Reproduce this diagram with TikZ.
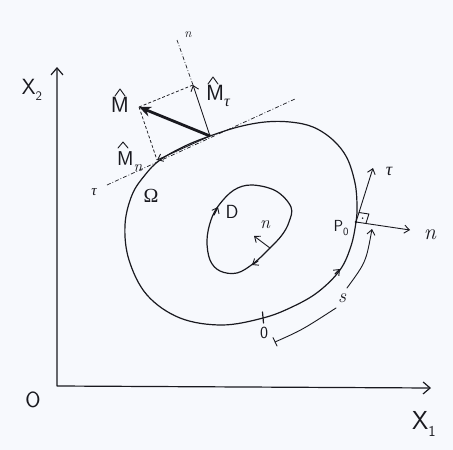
\documentclass[tikz,border=0pt]{standalone}
\usepackage{fontspec}
\newfontfamily\grk{Liberation Serif}
\usetikzlibrary{arrows.meta,calc}
\definecolor{ink}{rgb}{0.1,0.1,0.12}
\definecolor{paper}{RGB}{247,249,253}
\newcommand{\dn}[2]{\raisebox{-0.3em}{\fontsize{#1}{#1}\selectfont #2}}
\begin{document}
\begin{tikzpicture}[x=1pt,y=-1pt,
  pen/.style={line width=1.2pt, draw=ink, line cap=round, line join=round},
  thinpen/.style={line width=0.9pt, draw=ink, line cap=round, line join=round},
  tip/.style={-{Straight Barb[length=5pt,width=8pt,line width=0.9pt]}},
  dashdot/.style={line width=0.7pt, draw=ink, dash pattern=on 4pt off 2pt on 0.8pt off 2pt},
  dsh/.style={line width=0.75pt, draw=ink, dash pattern=on 3pt off 2pt},
  lab/.style={text=ink, inner sep=0pt},
  fs/.style={lab, font=\fontsize{#1}{#1}\selectfont}]
\useasboundingbox[fill=paper] (0,0) rectangle (453,450);

% axes
\coordinate (O) at (57,386);
\coordinate (Y) at (57,67);
\coordinate (X) at (431,388);
\draw[pen, {Straight Barb[length=7pt,width=12pt]}-{Straight Barb[length=7pt,width=12pt]}] (Y) -- (O) -- (X);
\node[fs=22] (x2) at (32,90) {\sffamily X\dn{13}{2}};
\node[fs=26] (x1) at (424,424) {\sffamily X\dn{15}{1}};
\node[fs=22] (o) at (33,400) {\sffamily O};

% outer boundary
\draw[pen] plot[smooth cycle, tension=0.6] coordinates {
 (210,136) (238,127) (265,122) (290,122) (313,127) (333,140) (347,158)
 (355,183) (357,205) (356,222) (351,246) (340,270) (318,292) (292,307)
 (263,318) (222,325) (180,318) (147,295) (129,260) (125,225) (132,195)
 (145,175) (160,160) (185,146)};
% inner boundary
\draw[pen] plot[smooth cycle, tension=0.6] coordinates {
 (252,185) (276,191) (291,207) (289,222) (282,235) (270,248) (254,263)
 (237,273) (220,271) (210,260) (207,240) (211,220) (219,205) (234,190)};

% orientation arrows on boundaries
\draw[pen,tip] (335,274) -- (340,269);
\draw[pen,tip] (214,215) -- (218,207);
\draw[pen,tip] (258,261) -- (252,265);

% inner normal
\draw[thinpen,tip] (270,248) -- (254,236);
\node[fs=18] (ni) at (265,225) {\itshape n};
\node[fs=19] (d) at (232,212) {\sffamily D};
\node[fs=20] (om) at (151,196) {\grk Ω};

% moment construction
\coordinate (C) at (210,136);
\coordinate (M) at (139,107);
\coordinate (Mt) at (193,85);
\coordinate (Mn) at (157,160);
\coordinate (nEnd) at (177,40);
\coordinate (tA) at (107,185);
\coordinate (tB) at (295,99);
\draw[dashdot] (tA) -- (tB);
\draw[dashdot] (Mt) -- (nEnd);
\draw[dsh] (M) -- (Mt);
\draw[dsh] (M) -- (Mn);
\draw[thinpen,tip] (C) -- (Mt);
\draw[thinpen,tip] (C) -- (Mn);
\draw[ink, line width=2.8pt, -{Stealth[length=12pt,width=10pt]}] (C) -- (M);
\node[fs=22] (lM) at (120,105) {\sffamily M};
\draw[thinpen] (115,96) -- (120,89) -- (125,96);
\node[fs=22, anchor=base west] (lMt) at (206,100) {\sffamily M\dn{16}{\grk\itshape τ}};
\draw[thinpen] (208,84) -- (213,77) -- (218,84);
\node[fs=20, anchor=base west] (lMn) at (117,165) {\sffamily M\dn{16}{\rmfamily\itshape n}};
\draw[thinpen] (118,148) -- (123,142) -- (128,148);
\node[fs=13] (ln) at (188,35) {\itshape n};
\node[fs=15] (lt) at (94,192) {\grk\itshape τ};

% point P0
\coordinate (P) at (356,222);
\coordinate (Pt) at (373,168);
\coordinate (Pn) at (410,230);
\draw[thinpen,tip] (P) -- (Pt);
\draw[thinpen,tip] (P) -- (Pn);
\draw[thinpen] (359,212.5) -- (368.9,214) -- (365.9,223.5);
\fill[ink] (362.6,218.2) circle (0.9pt);
\fill[ink] (P) circle (1.3pt);
\node[fs=16] (lP) at (341,228) {\sffamily P\dn{11}{0}};
\node[fs=18] (lPt) at (389,171) {\grk\itshape τ};
\node[fs=22] (lPn) at (430,235) {\itshape n};

% arc length s
\draw[pen] (262.5,312) -- (263.5,323);
\draw[thinpen] (273,337.5) -- (277,346);
\draw[thinpen] (275,342) .. controls (302,330) .. (336,308);
\draw[thinpen,tip] (347,288) .. controls (366,262) .. (372,229);
\node[fs=17] (l0) at (264,333) {\sffamily 0};
\node[fs=20] (ls) at (342,298) {\itshape s};
\end{tikzpicture}
\end{document}
